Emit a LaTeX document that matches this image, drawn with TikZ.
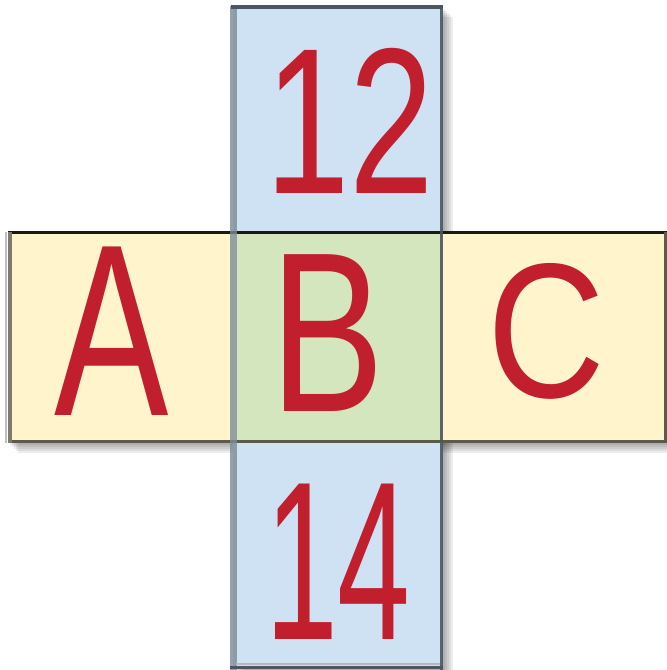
\documentclass[tikz,border=0pt]{standalone}
\usepackage{fontspec}
\setmainfont{Liberation Sans}
\definecolor{vblue}{HTML}{CFE2F3}
\definecolor{hyel}{HTML}{FFF4CC}
\definecolor{ovgreen}{HTML}{D4E6BD}
\definecolor{vborder}{HTML}{4B5662}
\definecolor{vleft}{HTML}{7B8B97}
\definecolor{hborder}{HTML}{1A1A14}
\definecolor{hbot}{HTML}{5C5A48}
\definecolor{inkred}{HTML}{C11E2E}
\tikzset{
  letter/.style={inner sep=0pt, text=inkred},
  shade1/.style={fill=black, opacity=0.07},
}
\begin{document}
\begin{tikzpicture}[x=1pt,y=-1pt]
\useasboundingbox (0,0) rectangle (667,670);
\fill[white] (0,0) rectangle (667,670);
% shadows
\foreach \d in {2,4,6,8,10}{
  \fill[shade1] (233+\d,7+\d) rectangle (443+\d,670);
  \fill[shade1] (8+\d,232+\d) rectangle (667,443+\d);
}
% fills
\fill[vblue] (233,7) rectangle (442,666);
\fill[hyel] (8,232) rectangle (667,442);
\fill[ovgreen] (237,233) rectangle (441,441);
% horizontal strip borders
\draw[line width=3pt, hborder] (8,232) -- (667,232);
\draw[line width=3.5pt, hbot] (8,441.5) -- (667,441.5);
\draw[line width=4pt, hbot!80] (10,232) -- (10,443);
\draw[line width=2pt, black!25] (6,232) -- (6,443);
\draw[line width=3pt, hbot] (665.5,232) -- (665.5,443);
% vertical strip borders
\draw[line width=7pt, vleft, opacity=0.8] (233.5,6) -- (233.5,670);
\draw[line width=4pt, vborder] (231,7) -- (443,7);
\draw[line width=3pt, vborder, opacity=0.9] (441.5,5) -- (441.5,670);
\draw[line width=3pt, vborder] (230,667) -- (443,667);
\draw[line width=2pt, vleft!60] (236,664) -- (440,664);
% letters
\node[letter, font=\fontsize{208}{208}\selectfont, xscale=0.73] (n12) at (350,121) {12};
\node[letter, font=\fontsize{245}{245}\selectfont, xscale=0.7] (nA) at (112,331) {A};
\node[letter, font=\fontsize{228}{228}\selectfont, xscale=0.75] (nB) at (328,333) {B};
\node[letter, font=\fontsize{192}{192}\selectfont, xscale=0.85] (nC) at (546,331) {C};
\node[letter, font=\fontsize{226}{226}\selectfont, xscale=0.58] (n14) at (338,562) {14};
\end{tikzpicture}
\end{document}
